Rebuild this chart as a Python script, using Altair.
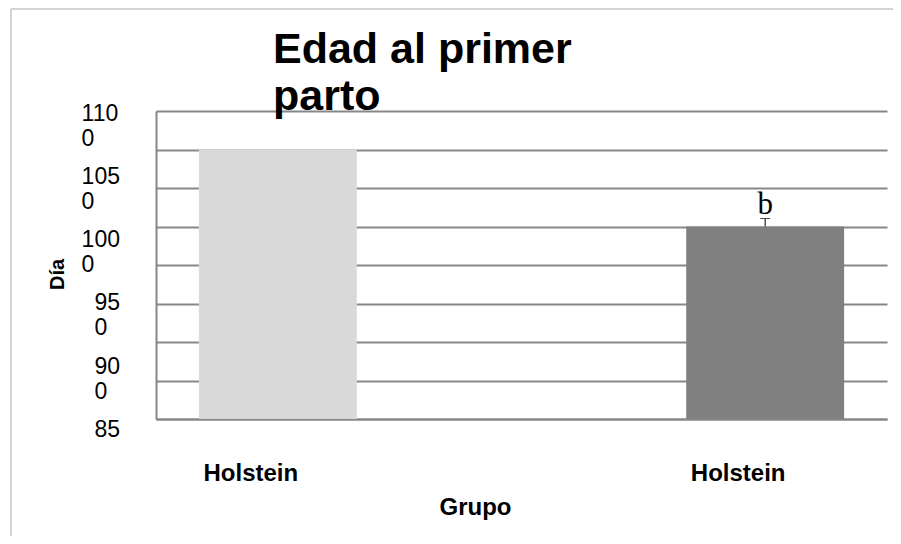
import json
import altair as alt
import pandas as pd

# ---- data ----
group_ids = ["g1", "g2"]
group_labels = ["Holstein", "Holstein"]
dias = [1068.75, 1006.25]
errores = [0.0, 6.5]
letras = ["", "b"]
colores = ["#d9d9d9", "#808080"]

grid_values = [850, 881.25, 912.5, 943.75, 975, 1006.25, 1037.5, 1068.75, 1100]
y_label_values = [850, 900, 950, 1000, 1050, 1100]
# labels are wrapped in the original; the lowest one is cut off
y_label_texts = ["85", "90\n0", "95\n0", "100\n0", "105\n0", "110\n0"]

bars_df = pd.DataFrame({
    "grupo": group_ids,
    "dia": dias,
    "err": errores,
    "letra": letras,
    "color": colores,
})
labels_df = pd.DataFrame({"valor": y_label_values, "texto": y_label_texts})

FONT = "Liberation Sans"
GRID = "#878787"
label_expr = json.dumps(dict(zip(group_ids, group_labels))) + "[datum.value]"

y_scale = alt.Scale(domain=[850, 1100], zero=False, nice=False)

x_enc = alt.X(
    "grupo:N",
    sort=group_ids,
    scale=alt.Scale(paddingInner=0.676, paddingOuter=0.088),
    axis=alt.Axis(
        title="Grupo",
        labelExpr=label_expr,
        labelFont=FONT, labelFontSize=24, labelFontWeight="bold", labelColor="#000000",
        labelAngle=0, labelOffset=-27, labelPadding=61, labelBaseline="alphabetic",
        ticks=False, domain=True, domainColor=GRID, domainWidth=2,
        titleFont=FONT, titleFontSize=24, titleFontWeight="bold", titleColor="#000000",
        titleX=319, titleY=95, titleBaseline="alphabetic", titleAlign="center",
    ),
)

base = alt.Chart(bars_df).transform_calculate(upper="datum.dia + datum.err")

bars = base.mark_bar().encode(
    x=x_enc,
    y=alt.Y(
        "dia:Q",
        scale=y_scale,
        axis=alt.Axis(
            title="Día", values=grid_values, tickCount=len(grid_values) + 2,
            labels=False, ticks=False,
            grid=True, gridColor=GRID, gridWidth=2,
            domain=True, domainColor=GRID, domainWidth=2,
            titleFont=FONT, titleFontSize=20, titleFontWeight="bold", titleColor="#000000",
            titleX=-99, titleY=163, titleAngle=270, titleAlign="center", titleBaseline="middle",
        ),
    ),
    y2=alt.datum(850),
    color=alt.Color("color:N", scale=None),
)

err_rule = base.transform_filter("datum.err > 0").mark_rule(color="black", strokeWidth=1).encode(
    x=alt.X("grupo:N", sort=group_ids),
    y=alt.Y("dia:Q", scale=y_scale),
    y2="upper:Q",
)

err_cap = base.transform_filter("datum.err > 0").mark_tick(color="black", thickness=1, size=10).encode(
    x=alt.X("grupo:N", sort=group_ids),
    y=alt.Y("upper:Q", scale=y_scale),
)

letter = base.mark_text(font="Liberation Serif", fontSize=31, baseline="alphabetic", dy=-4, color="black").encode(
    x=alt.X("grupo:N", sort=group_ids),
    y=alt.Y("upper:Q", scale=y_scale),
    text="letra:N",
)

border_top = alt.Chart(bars_df).mark_rule(color="#d4d4d4", strokeWidth=2).encode(
    x=alt.value(-145), x2=alt.value(740), y=alt.value(-102)
)
border_left = alt.Chart(bars_df).mark_rule(color="#d4d4d4", strokeWidth=2).encode(
    x=alt.value(-145), y=alt.value(-102), y2=alt.value(430)
)

main = alt.layer(bars, err_rule, err_cap, letter, border_top, border_left)

ylabels = alt.Chart(labels_df).transform_calculate(
    lx="-36 - 12.8 * (indexof(datum.texto, '\\n') < 0 ? length(datum.texto) : indexof(datum.texto, '\\n'))"
).mark_text(
    align="left", baseline="middle", font=FONT, fontSize=23,
    lineBreak="\n", lineHeight=25, color="black",
).encode(
    x=alt.X("lx:Q", scale=None),
    y=alt.Y("valor:Q", scale=alt.Scale(domain=[850, 1100], range=[319, 2.5]), axis=None),
    text="texto:N",
)

chart = alt.layer(main, ylabels).resolve_scale(y="independent").properties(
    width=731,
    height=308,
    title=alt.TitleParams(
        text=["Edad al primer", "parto"],
        anchor="start", frame="group", dx=117, offset=-111,
        baseline="top", font=FONT, fontSize=43, fontWeight="bold",
        lineHeight=47, color="black",
    ),
    autosize=alt.AutoSizeParams(type="none"),
    padding={"left": 148, "top": 103, "right": 6, "bottom": 117},
).configure_view(stroke=None)

chart.save("out.html", embed_options={"renderer": "svg", "actions": False})
